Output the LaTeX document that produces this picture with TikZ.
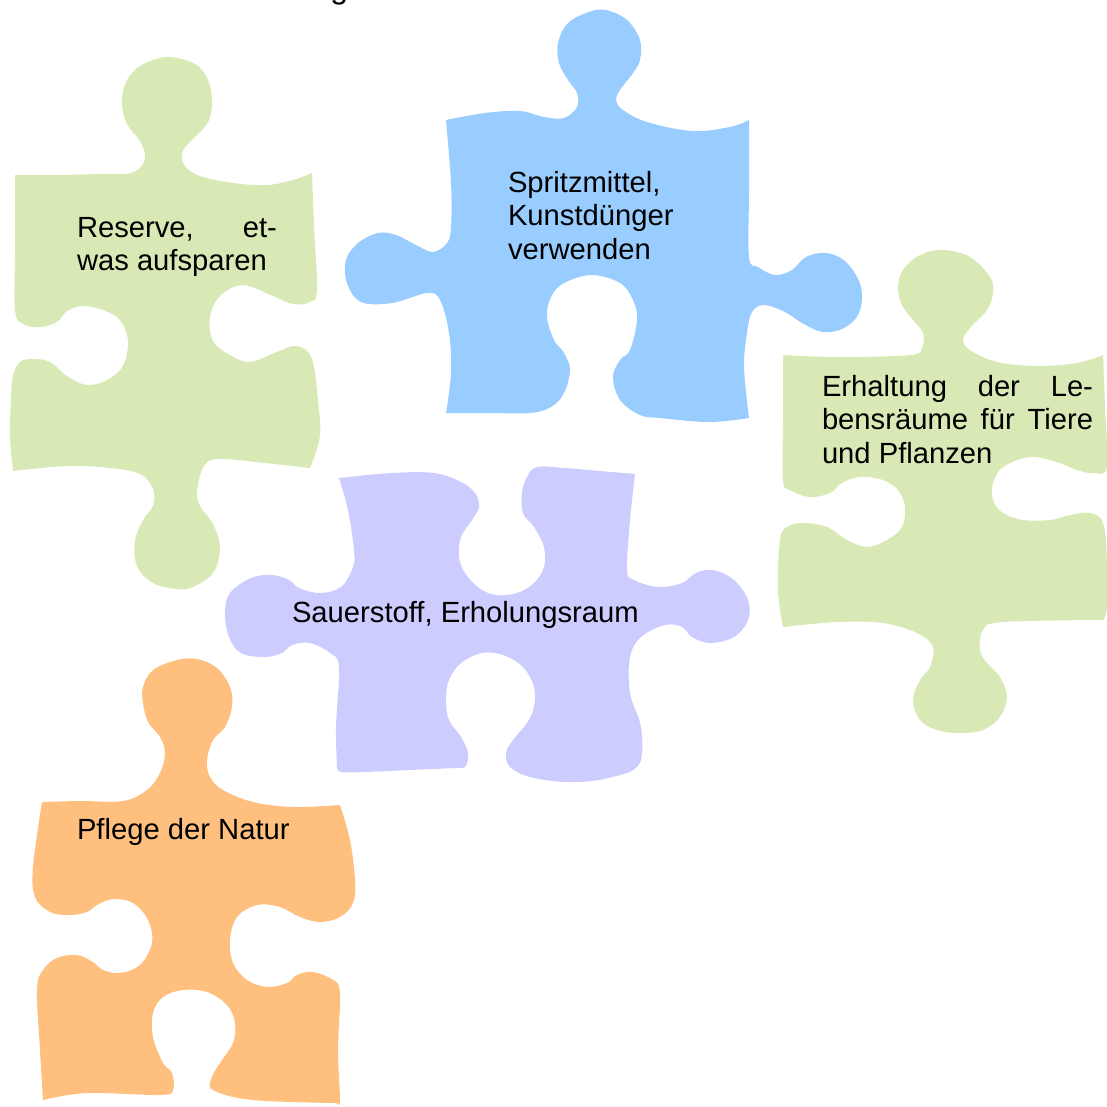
\documentclass[tikz,border=0pt]{standalone}
\usepackage{fontspec}
\setmainfont{Liberation Sans}
\definecolor{leafgreen}{HTML}{D8E9B5}
\definecolor{skyblue}{HTML}{99CCFF}
\definecolor{lavender}{HTML}{CCCCFF}
\definecolor{apricot}{HTML}{FFBF7F}
\begin{document}
\begin{tikzpicture}[x=1pt,y=-1pt,
  curvy/.style={smooth,tension=0.6},
  label/.style={anchor=base west,inner sep=0pt,outer sep=0pt,
    font=\fontsize{29.2}{33.6}\selectfont},
  heading/.style={anchor=base west,inner sep=0pt,outer sep=0pt,
    font=\fontsize{32.1}{37}\selectfont}]
\path[use as bounding box] (0,0) rectangle (1107,1106);
\clip (0,0) rectangle (1107,1106);

% heading line, mostly above the page edge
\node[heading] (title) at (55,-1.5) {Was bedeutet eine geschützte Natur für den Menschen};

% green piece, upper left
\fill[leafgreen]
  plot[curvy] coordinates {(15,175) (60,175) (100,174) (125,174) (136,171) (143,164) (145,155) (140,141) (127,124) (122,103) (126,82) (140,66) (167,57) (195,64) (208,80) (212,103) (207,124) (187,145) (182,155) (185,166) (200,176) (233,183) (267,185) (293,180) (312,173)}
  -- plot[curvy] coordinates {(312,173) (314,225) (317,290) (310,302) (293,304) (273,296) (243,285) (220,296) (210,317) (213,341) (230,355) (250,362) (277,352) (297,346) (312,359) (318,401) (320,436) (310,468)}
  -- plot[curvy] coordinates {(310,468) (265,463) (217,459) (203,468) (197,492) (200,506) (213,524) (220,548) (213,573) (193,587) (177,589) (153,583) (137,566) (135,541) (143,520) (153,506) (153,489) (140,474) (110,468) (67,466) (13,471)}
  -- plot[curvy] coordinates {(13,471) (10,436) (11,400) (13,376) (20,362) (33,359) (50,362) (67,376) (87,385) (107,380) (123,366) (128,341) (120,320) (103,310) (83,306) (67,311) (57,322) (40,327) (23,324) (15,310) (15,250) (15,175)}
  -- cycle;

% blue piece, top centre
\fill[skyblue]
  plot[curvy] coordinates {(446,120) (485,113) (520,111) (544,117) (564,118) (577,107) (577,93) (568,80) (559,63) (558,43) (568,23) (589,12) (606,10) (627,20) (640,40) (640,60) (633,73) (620,90) (616,100) (623,110) (647,122) (692,131) (730,127) (749,120)}
  -- plot[curvy] coordinates {(749,120) (749,190) (749,257) (758,267) (775,275) (792,270) (806,257) (827,253) (847,263) (861,287) (859,313) (844,328) (823,332) (802,323) (785,312) (764,305) (752,312) (747,333) (744,367) (749,418)}
  -- plot[curvy] coordinates {(749,418) (709,422) (660,418) (640,415) (620,400) (613,377) (620,360) (630,350) (637,320) (633,300) (620,283) (592,275) (564,283) (551,297) (547,317) (554,340) (564,353) (570,370) (564,393) (551,407) (530,413) (490,413) (446,413)}
  -- plot[curvy] coordinates {(446,413) (451,373) (449,333) (440,300) (427,293) (392,303) (361,302) (347,283) (346,260) (358,243) (378,233) (396,235) (416,245) (433,252) (447,243) (451,227) (451,183) (446,120)}
  -- cycle;

% green piece, right
\fill[leafgreen]
  plot[curvy] coordinates {(783,355) (837,357) (910,355) (922,347) (923,333) (913,320) (902,305) (898,287) (903,270) (920,255) (943,250) (970,257) (990,277) (993,293) (987,310) (970,328) (963,340) (970,350) (997,362) (1037,366) (1077,363) (1103,355)}
  -- plot[curvy] coordinates {(1103,355) (1105,407) (1107,467) (1093,473) (1077,470) (1057,462) (1030,457) (1003,467) (993,483) (993,500) (1003,513) (1023,520) (1050,520) (1070,515) (1090,513) (1103,523) (1107,560) (1107,607) (1103,620)}
  -- plot[curvy] coordinates {(1103,620) (1003,622) (983,630) (980,650) (987,663) (1000,677) (1007,697) (1000,717) (983,730) (960,733) (937,730) (920,720) (913,700) (920,680) (930,667) (933,647) (917,633) (883,623) (837,622) (783,627)}
  -- plot[curvy] coordinates {(783,627) (778,590) (780,540) (787,527) (803,523) (827,527) (847,540) (867,547) (887,540) (902,527) (905,507) (898,490) (883,480) (860,477) (842,483) (830,493) (810,497) (790,490) (783,480) (783,420) (783,355)}
  -- cycle;

% lavender piece, centre
\fill[lavender]
  plot[curvy] coordinates {(339,478) (392,473) (434,473) (461,482) (475,493) (479,507) (472,520) (461,537) (459,557) (465,573) (479,588) (496,595) (517,593) (534,583) (544,567) (544,547) (534,527) (523,513) (522,493) (527,477) (537,467) (565,468) (600,471) (635,474)}
  -- plot[curvy] coordinates {(635,474) (630,520) (627,570) (634,580) (658,587) (682,583) (696,573) (713,570) (734,580) (748,600) (748,620) (734,637) (710,643) (692,637) (682,627) (665,625) (641,637) (630,657) (630,693) (641,727) (641,760) (630,772)}
  -- plot[curvy] coordinates {(630,772) (599,780) (565,782) (530,777) (510,767) (506,753) (513,740) (527,723) (534,707) (534,687) (523,667) (503,655) (482,653) (461,663) (449,680) (446,700) (449,720) (461,737) (468,753) (465,767) (454,768) (410,770) (365,772) (341,772) (337,767)}
  -- plot[curvy] coordinates {(337,767) (336,727) (339,667) (330,653) (310,643) (292,645) (282,653) (265,657) (241,653) (229,637) (225,613) (230,593) (251,578) (272,575) (289,580) (299,588) (320,593) (341,587) (353,567) (354,550) (348,510) (339,478)}
  -- cycle;

% orange piece, lower left
\fill[apricot]
  plot[curvy] coordinates {(42,802) (80,801) (123,801) (147,790) (160,773) (165,753) (160,737) (148,722) (143,703) (143,687) (153,670) (177,660) (197,659) (217,668) (230,687) (232,707) (225,727) (213,740) (207,760) (210,777) (223,790) (253,802) (293,807) (340,805)}
  -- plot[curvy] coordinates {(340,805) (350,840) (355,880) (353,903) (340,917) (320,922) (300,917) (280,907) (257,905) (237,917) (230,940) (233,963) (247,980) (267,987) (287,983) (297,975) (313,972) (333,980) (340,993) (338,1050) (340,1100) (337,1103)}
  -- plot[curvy] coordinates {(337,1103) (253,1100) (213,1090) (212,1077) (220,1063) (233,1043) (235,1023) (227,1005) (207,992) (183,990) (163,997) (153,1013) (153,1037) (163,1063) (172,1073) (173,1090) (160,1095) (87,1093) (43,1100)}
  -- plot[curvy] coordinates {(43,1100) (40,1050) (37,990) (43,970) (57,958) (77,955) (93,962) (103,970) (120,973) (140,965) (152,943) (148,920) (133,903) (113,899) (97,905) (87,912) (70,915) (50,912) (35,897) (33,867) (42,802)}
  -- cycle;

% labels on the pieces
\node[label] (reserve) at (77,237)
  {\parbox[t]{200pt}{\makebox[200pt][s]{Reserve, et-}\\was aufsparen}};
\node[label] (spritz) at (508,192)
  {\parbox[t]{200pt}{Spritzmittel,\\Kunstdünger\\verwenden}};
\node[label] (lebensraum) at (822,396)
  {\parbox[t]{271pt}{\makebox[271pt][s]{Erhaltung der Le-}\\\makebox[271pt][s]{bensräume für Tiere}\\und Pflanzen}};
\node[label] (sauerstoff) at (292,622) {Sauerstoff, Erholungsraum};
\node[label] (pflege) at (77,839) {Pflege der Natur};
\end{tikzpicture}
\end{document}
